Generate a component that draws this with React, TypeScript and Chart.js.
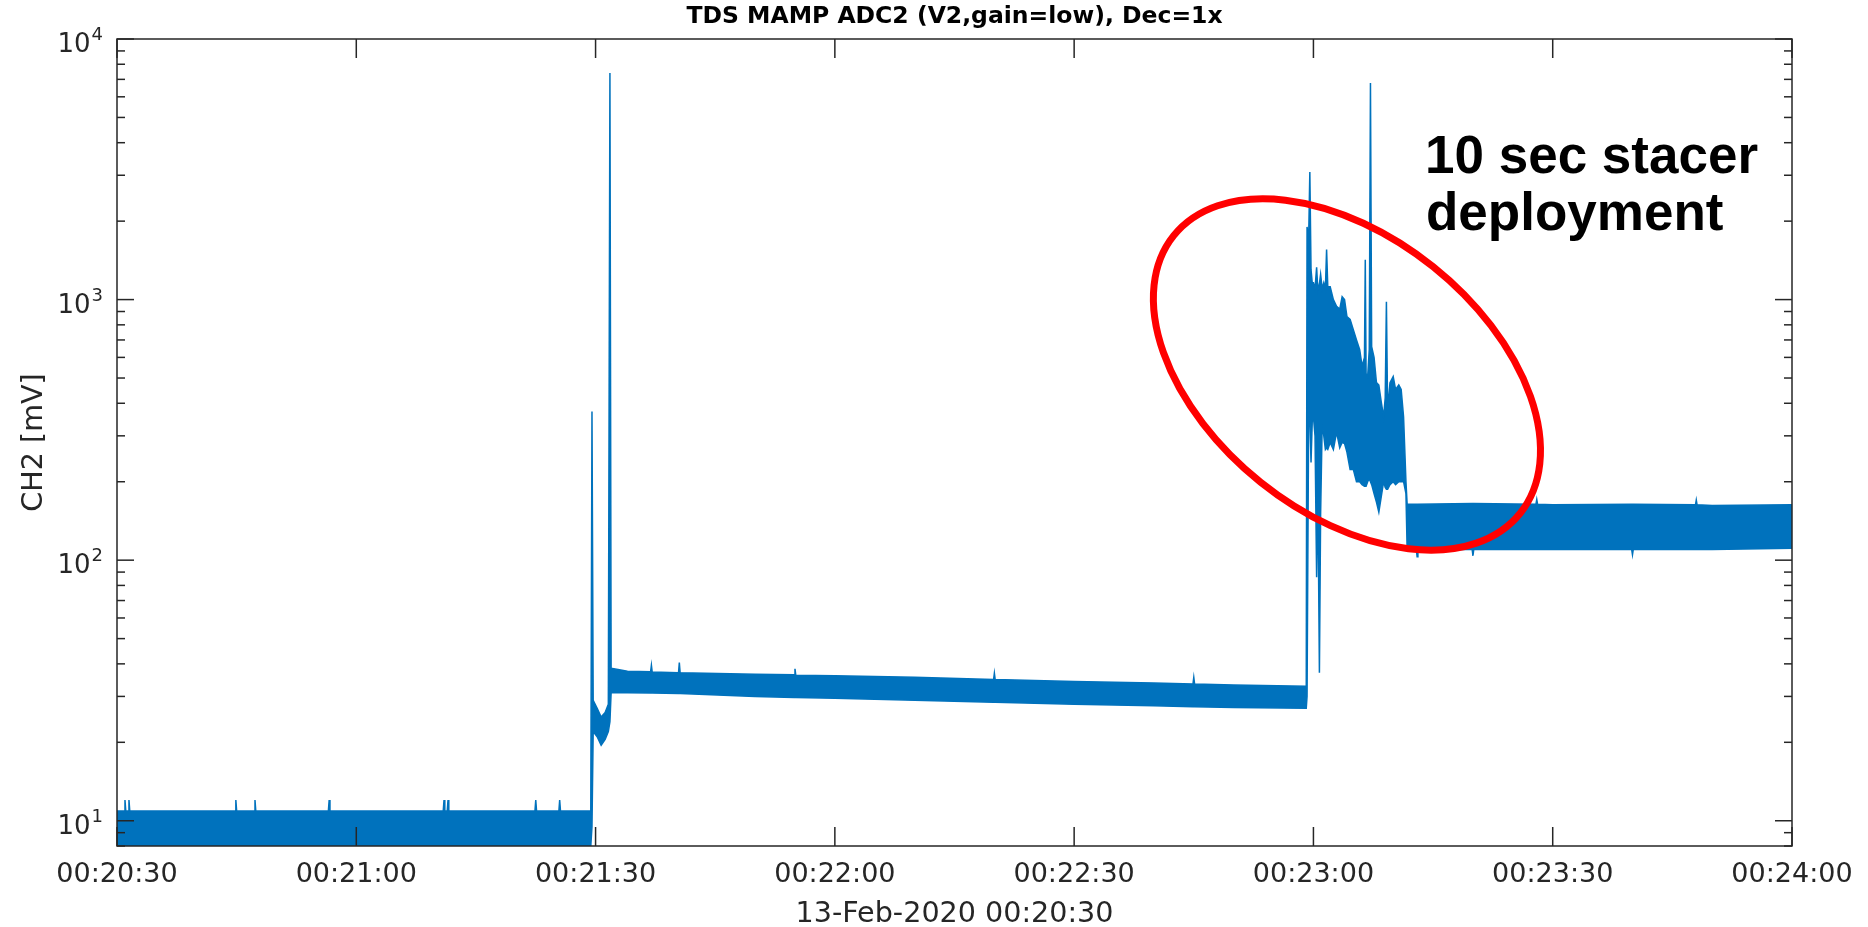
import React, { useEffect, useRef } from "react";
import { Chart, registerables } from "chart.js";

Chart.register(...registerables);

// ---- text ----
const titleText = "TDS MAMP ADC2 (V2,gain=low), Dec=1x";
const xAxisTitle = "13-Feb-2020 00:20:30";
const yAxisTitle = "CH2 [mV]";
const annotationLines = ["10 sec stacer", "deployment"];

// ---- axes ----
const startClockSec = 20 * 60 + 30; // 00:20:30
const xTicks = [0, 30, 60, 90, 120, 150, 180, 210];
const yMajorTicks = [10, 100, 1000, 10000];
const yTickExponents = ["1", "2", "3", "4"];
const yMinMv = 8;
const yMaxMv = 10000;

// ---- signal envelope (seconds after 00:20:30, mV) ----
const timeSec = [
  // quiet period before first step
  0, 0.9, 1.0, 1.1, 1.4, 1.5, 1.6, 14.8, 14.9, 15.0, 17.2, 17.3, 17.4,
  26.5, 26.6, 26.7, 40.9, 41.0, 41.1, 41.4, 41.5, 41.6, 52.4, 52.5, 52.6,
  55.4, 55.5, 55.6, 59.4,
  // two early spikes
  59.55, 59.7, 60.2, 60.7, 61.2, 61.6, 61.8, 61.95,
  // ~30 mV plateau
  64, 66.9, 67, 67.1, 70.4, 70.5, 70.6, 80, 84.9, 85, 85.1, 90, 100,
  109.9, 110, 110.1, 120, 130, 134.9, 135, 135.1, 140, 149.1,
  // stacer deployment
  149.2, 149.4, 149.55, 149.7, 149.85, 150.0, 150.2, 150.4, 150.55, 150.75,
  150.9, 151.1, 151.3, 151.5, 151.65, 151.8, 152.1, 152.5, 152.9, 153.3,
  153.6, 153.9, 154.2, 154.6, 155.0, 155.4, 155.8, 156.1, 156.4, 156.5,
  156.6, 156.8, 157.0, 157.15, 157.3, 157.6, 157.9, 158.2, 158.5, 158.8,
  159.0, 159.15, 159.3, 159.6, 160.0, 160.3, 160.7, 161.0, 161.3, 161.6,
  161.75,
  // ~130 mV plateau
  162.9, 163, 163.1, 169.9, 170, 170.1, 177.9, 178, 178.1, 180,
  189.9, 190, 190.1, 197.9, 198, 198.1, 200, 210,
];
const upperMv = [
  10.9, 10.9, 12, 10.9, 10.9, 12, 10.9, 10.9, 12, 10.9, 10.9, 12, 10.9,
  10.9, 12, 10.9, 10.9, 12, 10.9, 10.9, 12, 10.9, 10.9, 12, 10.9,
  10.9, 12, 10.9, 10.9,
  372, 29, 27, 25, 26, 28, 7400, 38.5,
  37.5, 37.3, 39.5, 37.2, 37.0, 40.5, 37.0, 36.5, 36.3, 38.3, 36.2, 36, 35.5,
  34.8, 36.8, 34.8, 34.2, 33.8, 33.5, 35.5, 33.5, 33.2, 32.8,
  1900, 1700, 3090, 1300, 1160, 1160, 1100, 1330, 1091, 1150,
  1250, 1100, 1161, 1100, 1556, 1120, 1120, 1000, 942, 920,
  1026, 1000, 860, 840, 767, 700, 643, 555, 600, 1422,
  520, 507, 643, 6780, 660, 600, 480, 470, 405, 355,
  420, 981, 379, 480, 507, 452, 470, 452, 355, 200,
  164,
  164, 164, 164, 165, 165, 165, 164, 171, 164, 163,
  164, 164, 164, 163, 170, 163, 162, 163,
];
const lowerMv = [
  8, 8, 8, 8, 8, 8, 8, 8, 8, 8, 8, 8, 8,
  8, 8, 8, 8, 8, 8, 8, 8, 8, 8, 8, 8,
  8, 8, 8, 8,
  9.5, 22, 21, 19.5, 20.5, 22, 24, 31,
  31, 30.9, 30.9, 30.9, 30.8, 30.8, 30.8, 30, 29.7, 29.7, 29.7, 29.5, 29,
  28.5, 28.5, 28.5, 28, 27.6, 27.4, 27.4, 27.4, 27.2, 27,
  30, 355, 355, 237, 340, 355, 300, 86, 200, 37,
  150, 337, 300, 266, 270, 266, 283, 266, 310, 270,
  283, 280, 260, 223, 223, 200, 200, 195, 192, 192,
  192, 200, 205, 200, 195, 180, 167, 153, 175, 200,
  190, 187, 187, 195, 200, 195, 200, 200, 200, 180,
  110,
  110, 103, 110, 110, 104, 110, 110, 110, 110, 110,
  110, 105, 110, 110, 110, 110, 110, 111,
];

// ---- red ellipse annotation (centre in data units) ----
const ellipseCentreSec = 154.2;
const ellipseCentreMv = 516;

const lineBlue = "#0072BD";
const axisGrey = "#262626";

function clockLabel(t: number): string {
  const total = Math.round(startClockSec + t);
  const h = Math.floor(total / 3600);
  const m = Math.floor((total % 3600) / 60);
  const s = total % 60;
  const p = (n: number) => String(n).padStart(2, "0");
  return `${p(h)}:${p(m)}:${p(s)}`;
}

const decorPlugin = {
  id: "decor",
  afterDraw(chart: any) {
    const { ctx, chartArea: a, scales } = chart;
    const xs = scales.x;
    const ys = scales.y;
    ctx.save();

    // data-area box
    ctx.strokeStyle = axisGrey;
    ctx.lineWidth = 1.5;
    ctx.strokeRect(a.left, a.top, a.right - a.left, a.bottom - a.top);

    const seg = (x1: number, y1: number, x2: number, y2: number) => {
      ctx.beginPath();
      ctx.moveTo(x1, y1);
      ctx.lineTo(x2, y2);
      ctx.stroke();
    };

    // x ticks (inward, top and bottom)
    ctx.lineWidth = 1.5;
    for (const v of xTicks) {
      const px = xs.getPixelForValue(v);
      seg(px, a.bottom, px, a.bottom - 19);
      seg(px, a.top, px, a.top + 19);
    }

    // y ticks (log, major + minor, inward left and right)
    for (let d = 0; d <= 4; d++) {
      for (let m = 1; m <= 9; m++) {
        const v = m * Math.pow(10, d);
        if (v < yMinMv - 1e-9 || v > yMaxMv + 1e-9) continue;
        const py = ys.getPixelForValue(v);
        const len = m === 1 ? 17 : 8;
        seg(a.left, py, a.left + len, py);
        seg(a.right, py, a.right - len, py);
      }
    }

    // y tick labels 10^n
    ctx.fillStyle = axisGrey;
    ctx.textBaseline = "alphabetic";
    yMajorTicks.forEach((v, i) => {
      const py = ys.getPixelForValue(v);
      ctx.font = "18px 'DejaVu Sans'";
      const ew = ctx.measureText(yTickExponents[i]).width;
      const expLeft = a.left - 14 - ew;
      ctx.textAlign = "left";
      ctx.fillText(yTickExponents[i], expLeft, py + 1);
      ctx.font = "26px 'DejaVu Sans'";
      ctx.textAlign = "right";
      ctx.fillText("10", expLeft - 1, py + 13);
    });

    // red ellipse
    const cx = xs.getPixelForValue(ellipseCentreSec);
    const cy = ys.getPixelForValue(ellipseCentreMv);
    ctx.beginPath();
    ctx.ellipse(cx, cy, 222, 138, (38.7 * Math.PI) / 180, 0, Math.PI * 2);
    ctx.strokeStyle = "#ff0000";
    ctx.lineWidth = 7;
    ctx.stroke();

    // annotation text
    ctx.fillStyle = "#000000";
    ctx.font = "bold 53px 'Liberation Sans'";
    ctx.textAlign = "left";
    ctx.textBaseline = "alphabetic";
    ctx.fillText(annotationLines[0], 1425, 173);
    ctx.fillText(annotationLines[1], 1426, 230);

    ctx.restore();
  },
};

export default function App() {
  const canvasRef = useRef<HTMLCanvasElement | null>(null);

  useEffect(() => {
    document.body.style.margin = "0";
    const canvas = canvasRef.current;
    if (!canvas) return;

    const upperPts = timeSec.map((t, i) => ({ x: t, y: upperMv[i] }));
    const lowerPts = timeSec.map((t, i) => ({ x: t, y: lowerMv[i] }));

    const chart = new Chart(canvas, {
      type: "line",
      data: {
        datasets: [
          {
            label: "upper",
            data: upperPts,
            borderColor: lineBlue,
            backgroundColor: lineBlue,
            borderWidth: 1.5,
            pointRadius: 0,
            tension: 0,
            fill: "+1",
          },
          {
            label: "lower",
            data: lowerPts,
            borderColor: lineBlue,
            backgroundColor: lineBlue,
            borderWidth: 1.5,
            pointRadius: 0,
            tension: 0,
            fill: false,
          },
        ],
      },
      options: {
        animation: false,
        responsive: false,
        devicePixelRatio: 1,
        layout: { padding: { left: 0, right: 76, top: 0, bottom: 0 } },
        plugins: {
          legend: { display: false },
          tooltip: { enabled: false },
          title: {
            display: true,
            fullSize: false,
            text: titleText,
            color: "#000000",
            font: { family: "DejaVu Sans", size: 23.5, weight: "bold", lineHeight: 1.2 },
            padding: { top: 3, bottom: 7.8 },
          },
        },
        scales: {
          x: {
            type: "linear",
            position: "bottom",
            min: 0,
            max: 210,
            afterBuildTicks: (s: any) => {
              s.ticks = xTicks.map((v) => ({ value: v }));
            },
            afterFit: (s: any) => {
              s.height = 81;
            },
            ticks: {
              autoSkip: false,
              maxRotation: 0,
              padding: 13,
              color: axisGrey,
              font: { family: "DejaVu Sans", size: 27 },
              callback: (v: any) => clockLabel(Number(v)),
            },
            grid: { display: false, drawTicks: false },
            border: { display: false },
            title: {
              display: true,
              text: xAxisTitle,
              color: axisGrey,
              font: { family: "DejaVu Sans", size: 28.6, lineHeight: 0.9 },
              padding: { top: 0, bottom: 0 },
            },
          },
          y: {
            type: "logarithmic",
            position: "left",
            min: yMinMv,
            max: yMaxMv,
            afterFit: (s: any) => {
              s.width = 117;
            },
            ticks: { display: false },
            grid: { display: false, drawTicks: false },
            border: { display: false },
            title: {
              display: true,
              text: yAxisTitle,
              color: axisGrey,
              font: { family: "DejaVu Sans", size: 28.6, lineHeight: 1.2 },
              padding: { top: 17, bottom: 0 },
            },
          },
        },
      },
      plugins: [decorPlugin],
    } as any);

    return () => chart.destroy();
  }, []);

  return (
    <div style={{ width: 1868, height: 927 }}>
      <canvas ref={canvasRef} width={1868} height={927} style={{ display: "block" }} />
    </div>
  );
}
